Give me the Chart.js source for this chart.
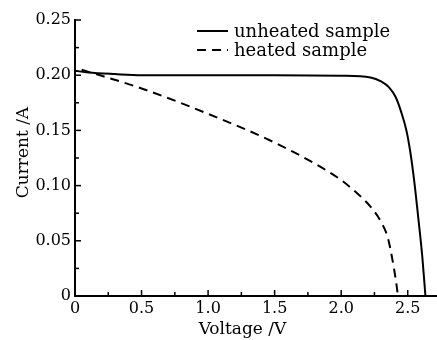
<!DOCTYPE html>
<html>
<head>
<meta charset="utf-8">
<script src="https://cdn.jsdelivr.net/npm/chart.js@4/dist/chart.umd.min.js"></script>
<style>
  html, body { margin: 0; padding: 0; background: #fff; overflow: hidden; }
  #wrap { width: 437px; height: 340px; }
</style>
</head>
<body>
<div id="wrap"><canvas id="ivChart"></canvas></div>
<script>
// I-V curves
const unheatedVoltage = [0, 0.1, 0.3, 0.5, 1.0, 1.5, 2.0, 2.22, 2.30, 2.36, 2.41, 2.45, 2.49, 2.52, 2.55, 2.58, 2.61, 2.633];
const unheatedCurrent = [0.204, 0.2025, 0.201, 0.2, 0.2, 0.2, 0.1995, 0.198, 0.1945, 0.189, 0.180, 0.167, 0.150, 0.130, 0.103, 0.070, 0.035, 0];

const heatedVoltage = [0.05, 0.5, 1.0, 1.5, 1.8, 2.0, 2.12, 2.22, 2.30, 2.35, 2.385, 2.41, 2.427];
const heatedCurrent = [0.205, 0.188, 0.165, 0.139, 0.120, 0.105, 0.093, 0.081, 0.067, 0.053, 0.033, 0.015, 0];

const seriesLabels = ['unheated sample', 'heated sample'];

const xTickValues = [0, 0.25, 0.5, 0.75, 1.0, 1.25, 1.5, 1.75, 2.0, 2.25, 2.5];
const xTickLabels = ['0', '', '0.5', '', '1.0', '', '1.5', '', '2.0', '', '2.5'];
const yTickValues = [0, 0.025, 0.05, 0.075, 0.1, 0.125, 0.15, 0.175, 0.2, 0.225, 0.25];
const yTickLabels = ['0', '', '0.05', '', '0.10', '', '0.15', '', '0.20', '', '0.25'];

const FONT = 'DejaVu Serif';

const toPoints = (xs, ys) => xs.map((v, i) => ({ x: v, y: ys[i] }));

// ticks point into the plot, like the original figure
const inwardTicks = {
  id: 'inwardTicks',
  afterDatasetsDraw(chart) {
    const { ctx, chartArea, scales } = chart;
    ctx.save();
    ctx.strokeStyle = '#000';
    ctx.lineWidth = 1.5;
    scales.x.ticks.forEach((t, i) => {
      const px = scales.x.getPixelForValue(t.value);
      const len = xTickLabels[i] ? 6 : 4;
      ctx.beginPath();
      ctx.moveTo(px, chartArea.bottom);
      ctx.lineTo(px, chartArea.bottom - len);
      ctx.stroke();
    });
    scales.y.ticks.forEach((t, i) => {
      const py = scales.y.getPixelForValue(t.value);
      const len = yTickLabels[i] ? 6 : 4;
      ctx.beginPath();
      ctx.moveTo(chartArea.left, py);
      ctx.lineTo(chartArea.left + len, py);
      ctx.stroke();
    });
    ctx.restore();
  }
};

// simple line legend inside the plot, top right
const lineLegend = {
  id: 'lineLegend',
  afterDraw(chart) {
    const { ctx, chartArea } = chart;
    const x0 = chartArea.left + 122;
    const y0 = chartArea.top + 11;
    ctx.save();
    ctx.font = '18px "' + FONT + '"';
    ctx.textBaseline = 'middle';
    ctx.fillStyle = '#000';
    chart.data.datasets.forEach((ds, i) => {
      const y = y0 + i * 19;
      ctx.strokeStyle = ds.borderColor;
      ctx.lineWidth = ds.borderWidth;
      ctx.setLineDash(ds.borderDash || []);
      ctx.beginPath();
      ctx.moveTo(x0, y);
      ctx.lineTo(x0 + 31, y);
      ctx.stroke();
      ctx.fillText(ds.label, x0 + 37, y + 1);
    });
    ctx.restore();
  }
};

new Chart(document.getElementById('ivChart'), {
  type: 'line',
  data: {
    datasets: [
      {
        label: seriesLabels[0],
        data: toPoints(unheatedVoltage, unheatedCurrent),
        borderColor: '#000',
        borderWidth: 2,
        pointRadius: 0,
        cubicInterpolationMode: 'monotone'
      },
      {
        label: seriesLabels[1],
        data: toPoints(heatedVoltage, heatedCurrent),
        borderColor: '#000',
        borderWidth: 2,
        borderDash: [9, 6],
        pointRadius: 0,
        cubicInterpolationMode: 'monotone'
      }
    ]
  },
  options: {
    responsive: true,
    maintainAspectRatio: false,
    animation: false,
    layout: { padding: { top: 20, right: 0, left: 0, bottom: 0 } },
    plugins: { legend: { display: false }, tooltip: { enabled: false } },
    scales: {
      x: {
        type: 'linear',
        min: 0,
        max: 2.72,
        afterBuildTicks: (scale) => { scale.ticks = xTickValues.map(v => ({ value: v })); },
        afterFit: (scale) => { scale.height = 44; },
        grid: { display: false, drawTicks: false },
        border: { display: true, color: '#000', width: 2 },
        ticks: {
          autoSkip: false,
          maxRotation: 0,
          padding: 3,
          color: '#000',
          font: { family: FONT, size: 16 },
          callback: (v, i) => xTickLabels[i]
        },
        title: {
          display: true,
          text: 'Voltage /V     ',
          color: '#000',
          font: { family: FONT, size: 17 },
          padding: { top: 0, bottom: 0 }
        }
      },
      y: {
        min: 0,
        max: 0.25,
        afterBuildTicks: (scale) => { scale.ticks = yTickValues.map(v => ({ value: v })); },
        afterFit: (scale) => { scale.width = 75; },
        grid: { display: false, drawTicks: false },
        border: { display: true, color: '#000', width: 2 },
        ticks: {
          autoSkip: false,
          padding: 4,
          color: '#000',
          font: { family: FONT, size: 16 },
          callback: (v, i) => yTickLabels[i]
        },
        title: {
          display: true,
          text: '  Current /A',
          color: '#000',
          font: { family: FONT, size: 17 },
          padding: { top: 13, bottom: 0 }
        }
      }
    }
  },
  plugins: [inwardTicks, lineLegend]
});
</script>
</body>
</html>
